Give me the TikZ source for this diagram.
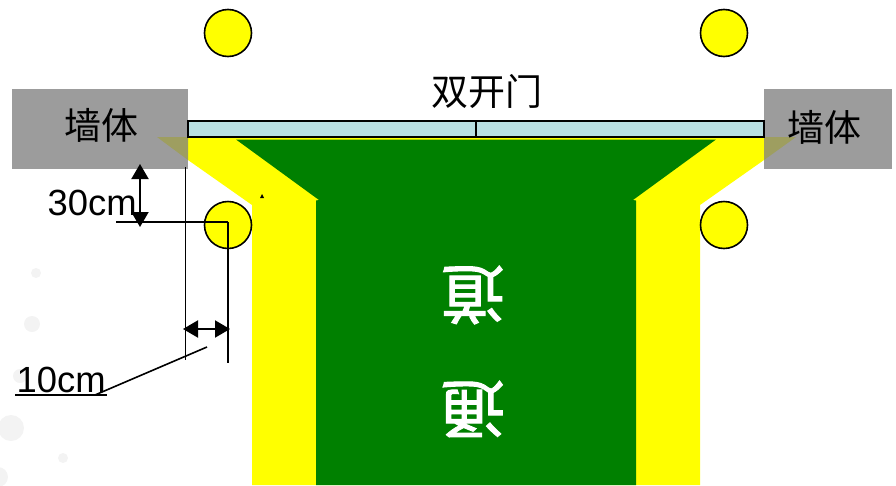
\documentclass[tikz,border=0pt]{standalone}
\usepackage{fontspec}
\setmainfont{Liberation Sans}
\newfontfamily\cjk{Noto Sans CJK SC}
\newfontfamily\cjkroad[FakeBold=1.6]{Noto Sans CJK SC}
\usetikzlibrary{arrows.meta}
\definecolor{wallgray}{HTML}{9C9C9C}
\definecolor{doorblue}{HTML}{B9DFE2}
\definecolor{roadgreen}{HTML}{008000}
\definecolor{overlapc}{HTML}{9E9E60}
\definecolor{spotgray}{HTML}{F3F3F3}
\definecolor{pureyellow}{RGB}{255,255,0}
\tikzset{
  x=1pt,y=-1pt,
  wall/.style={fill=wallgray,draw=none},
  wallword/.style={font=\fontsize{37}{37}\selectfont\cjk,text=black,inner sep=0pt},
  post/.style={circle,draw=black,line width=1.6pt,fill=pureyellow,minimum size=47pt,inner sep=0pt,outer sep=0pt},
  doorleaf/.style={draw=black,line width=1.6pt,fill=doorblue,minimum width=288pt,minimum height=16pt,inner sep=0pt,outer sep=0pt,anchor=north west},
  spot/.style={fill=spotgray,draw=none},
  dimline/.style={line width=1.6pt,draw=black},
  dimarrow/.style={line width=2pt,draw=black,{Triangle[length=15pt,width=17pt]}-{Triangle[length=15pt,width=17pt]}},
  dimword/.style={font=\fontsize{36.4}{36.4}\selectfont,inner sep=0pt,text=black},
  roadword/.style={font=\fontsize{64}{64}\selectfont\cjkroad,text=white,inner sep=0pt,rotate=180}
}
\begin{document}
\begin{tikzpicture}
\useasboundingbox (0,0) rectangle (896,485);
% faint background spots
\fill[spot] (36,273) circle (5);
\fill[spot] (32,324) circle (8);
\fill[spot] (20,376) circle (7);
\fill[spot] (11,428) circle (13);
\fill[spot] (63,458) circle (5);
\fill[spot] (-2,477) circle (10);
% walls
\fill[wall] (12,89) rectangle (188,169);
\fill[wall] (764,89) rectangle (892,169);
% apron and road
\fill[pureyellow] (188,137) -- (764,137) -- (764,160) -- (700,205) -- (700,485) -- (252,485) -- (252,205) -- (188,160) -- cycle;
\fill[overlapc] (157,137) -- (188,137) -- (188,160) -- cycle;
\fill[overlapc] (764,137) -- (796,137) -- (764,160) -- cycle;
\fill[roadgreen] (236,139.5) -- (716,139.5) -- (633,200) -- (636,200.5) -- (636,485) -- (316,485) -- (316,200.5) -- (319,200) -- cycle;
% door
\node[doorleaf] (doorL) at (188,121) {};
\node[doorleaf] (doorR) at (476,121) {};
% posts
\node[post] (p1) at (228,33) {};
\node[post] (p2) at (724,33) {};
\node[post] (p3) at (228,225) {};
\node[post] (p4) at (724,225) {};
% small mark
\fill[black] (262,194) -- (264,198) -- (260,198) -- cycle;
% labels
\node[wallword] (w1) at (101,125) {墙体};
\node[wallword] (w2) at (824,127) {墙体};
\node[wallword] (dd) at (487,91) {双开门};
\node[roadword] (r1) at (473,295) {道};
\node[roadword] (r2) at (473,409) {通};
\node[dimword,anchor=base west] (d30) at (47.5,215) {30cm};
\node[dimword,anchor=base west] (d10) at (16.5,392) {10cm};
% dimension geometry
\coordinate (a1) at (185.5,167);
\coordinate (a2) at (185.5,360);
\coordinate (b1) at (116,222);
\coordinate (b2) at (228,222);
\coordinate (c1) at (228,363);
\coordinate (e1) at (140,164);
\coordinate (e2) at (140,227);
\coordinate (f1) at (183,329);
\coordinate (f2) at (230,329);
\coordinate (g1) at (15,395);
\coordinate (g2) at (107,395);
\coordinate (g3) at (95,395);
\coordinate (g4) at (207,347);
\draw[dimline] (a1) -- (a2);
\draw[dimline] (b1) -- (b2);
\draw[dimline] (b2) -- (c1);
\draw[dimarrow] (e1) -- (e2);
\draw[dimarrow] (f1) -- (f2);
\draw[dimline] (g1) -- (g2);
\draw[dimline] (g3) -- (g4);
\end{tikzpicture}
\end{document}
